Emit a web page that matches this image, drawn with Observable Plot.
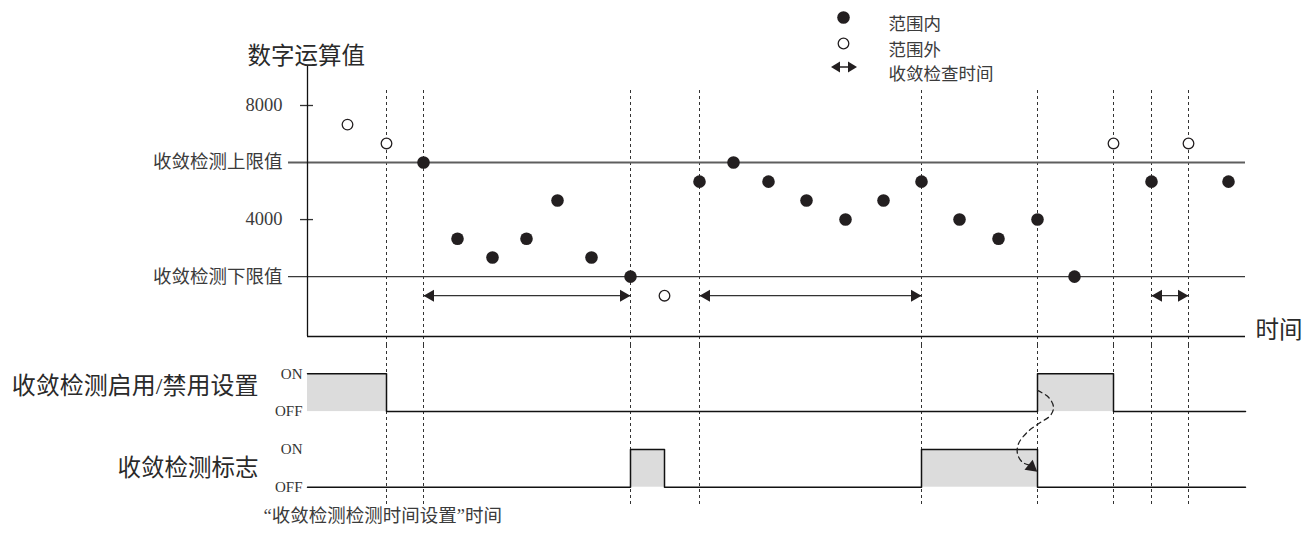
<!DOCTYPE html>
<html>
<head>
<meta charset="utf-8">
<script src="https://cdn.jsdelivr.net/npm/d3@7"></script>
<script src="https://cdn.jsdelivr.net/npm/@observablehq/plot@0.6"></script>
<style>
  html, body { margin: 0; padding: 0; background: #fff; overflow: hidden; }
  #chart svg { display: block; }
</style>
</head>
<body>
<div id="chart"></div>
<script>
// ---------- data ----------
// sample times (ms from the start of the axis) and digital operation values
const sampleTimes  = [40, 79, 116, 150, 185, 219, 250, 284, 323, 357, 392, 426, 461, 499, 538, 576, 614, 652, 691, 730, 767, 806, 844, 881, 921];
const sampleValues = [7330, 6670, 6000, 3330, 2670, 3330, 4670, 2670, 2000, 1330, 5330, 6000, 5330, 4670, 4000, 4670, 5330, 4000, 3330, 4000, 2000, 6670, 5330, 6670, 5330];
const upperLimit = 6000;
const lowerLimit = 2000;
const timeEnd = 938;
const axisMin = -100;
const axisTop = 9370;
const yTicks = [2000, 4000, 6000, 8000];
const yTickLabels = ["收敛检测下限值", "4000", "收敛检测上限值", "8000"];
const shortTicks = [4000, 8000];
// dashed event times
const eventTimes = [79, 116, 323, 392, 614, 730, 806, 844, 881];
// convergence check time arrows
const checkStarts = [116, 392, 844];
const checkEnds   = [323, 614, 881];
const checkValue = 1330;
// timing charts (state changes, step-after)
const enableTimes  = [0, 79, 730, 806, timeEnd];
const enableStates = [1, 0, 1, 0, 0];
const flagTimes    = [0, 323, 357, 614, 730, timeEnd];
const flagStates   = [0, 1, 0, 1, 0, 0];
const laneNames = ["收敛检测启用/禁用设置", "收敛检测标志"];
const laneBases = [2, 0];
// dashed feedback arrow (time, lane level)
const feedbackT     = [730, 741, 746, 743, 731, 720, 711, 710, 715, 721];
const feedbackLevel = [2.56, 2.38, 2.12, 1.90, 1.68, 1.46, 1.15, 0.88, 0.66, 0.59];
const feedbackHead = {t: 724, level: 0.53, angle: 129};
const legendLabels = ["范围内", "范围外", "收敛检查时间"];
const titleText = "数字运算值";
const xLabel = "时间";
const captionText = "“收敛检测检测时间设置”时间";

// ---------- derived tables ----------
const samples = sampleTimes.map((t, i) => ({t, v: sampleValues[i], inside: sampleValues[i] >= lowerLimit && sampleValues[i] <= upperLimit}));
const checks = checkStarts.map((s, i) => ({s, e: checkEnds[i], v: checkValue}));
const steps = (times, states, base) => times.map((t, i) => ({t, level: base + states[i]}));
const onIntervals = (times, states, base) => {
  const out = [];
  for (let i = 0; i < times.length - 1; i++) if (states[i] === 1) out.push({x1: times[i], x2: times[i + 1], y1: base, y2: base + 1});
  return out;
};
const enableSteps = steps(enableTimes, enableStates, laneBases[0]);
const flagSteps = steps(flagTimes, flagStates, laneBases[1]);
const onAreas = [...onIntervals(enableTimes, enableStates, laneBases[0]), ...onIntervals(flagTimes, flagStates, laneBases[1])];
const feedback = feedbackT.map((t, i) => ({t, level: feedbackLevel[i]}));

const FONT = "'Liberation Serif', 'Noto Sans CJK SC', serif";
const INK = "#231f20";
const dashStyle = {stroke: "#333", strokeWidth: 1, strokeDasharray: "3,3"};

// legend double arrow drawn in pixel space
function legendArrow(index, scales, values, dims) {
  const g = d3.create("svg:g").attr("fill", INK);
  const cx = dims.marginLeft + 537, cy = dims.marginTop - 38, half = 13;
  g.append("line").attr("x1", cx - half + 4).attr("x2", cx + half - 4).attr("y1", cy).attr("y2", cy)
    .attr("stroke", INK).attr("stroke-width", 1.5);
  g.append("path").attr("d", `M${cx - half},${cy}L${cx - half + 9},${cy - 5.5}L${cx - half + 9},${cy + 5.5}Z`);
  g.append("path").attr("d", `M${cx + half},${cy}L${cx + half - 9},${cy - 5.5}L${cx + half - 9},${cy + 5.5}Z`);
  return g.node();
}

// ---------- main chart ----------
const main = Plot.plot({
  width: 1313,
  height: 345,
  marginLeft: 307,
  marginRight: 68,
  marginTop: 105,
  marginBottom: 9,
  style: {fontFamily: FONT, background: "#fff", color: "#333"},
  x: {domain: [0, timeEnd], axis: null},
  y: {domain: [axisMin, 8000]},
  marks: [
    Plot.ruleX(eventTimes, {...dashStyle, insetTop: -15, insetBottom: -9}),
    Plot.ruleY([upperLimit], {stroke: "#5e5e5e", strokeWidth: 2, insetLeft: -19}),
    Plot.ruleY([lowerLimit], {stroke: "#3a3a3a", strokeWidth: 1.4, insetLeft: -19}),
    Plot.tickY(shortTicks, {stroke: "#333", strokeWidth: 1.3, insetLeft: -7, insetRight: 932}),
    Plot.ruleY([axisMin], {stroke: "#111", strokeWidth: 1.3}),
    Plot.ruleX([0], {y1: axisMin, y2: axisTop, stroke: "#111", strokeWidth: 1.3}),
    Plot.ruleY(checks, {y: "v", x1: "s", x2: "e", stroke: "#333", strokeWidth: 1.2}),
    Plot.dot(checks, {x: "s", y: "v", symbol: "triangle", rotate: -90, r: 4.5, fill: INK, dx: 7}),
    Plot.dot(checks, {x: "e", y: "v", symbol: "triangle", rotate: 90, r: 4.5, fill: INK, dx: -7}),
    Plot.dot(samples.filter(d => d.inside), {x: "t", y: "v", r: 6.3, fill: INK}),
    Plot.dot(samples.filter(d => !d.inside), {x: "t", y: "v", r: 5.3, fill: "#fff", stroke: INK, strokeWidth: 1.3}),
    Plot.axisY({ticks: yTicks, tickFormat: d => yTickLabels[yTicks.indexOf(d)], tickSize: 0, tickPadding: 25, fontSize: 18.5, label: null, fill: "#3b3b3b"}),
    Plot.text([xLabel], {frameAnchor: "bottom-right", dx: 10, dy: 1, textAnchor: "start", fontSize: 23.5, fill: "#2a2a2a"}),
    Plot.text([titleText], {frameAnchor: "top-left", dx: -60, dy: -58, textAnchor: "start", fontSize: 23.5, fill: "#2a2a2a"}),
    // legend
    Plot.dot([legendLabels[0]], {frameAnchor: "top-left", dx: 536, dy: -88, r: 6.3, fill: INK}),
    Plot.dot([legendLabels[1]], {frameAnchor: "top-left", dx: 536, dy: -62, r: 5.3, fill: "#fff", stroke: INK, strokeWidth: 1.3}),
    legendArrow,
    Plot.text([legendLabels[0]], {frameAnchor: "top-left", dx: 581, dy: -88, textAnchor: "start", fontSize: 17.5, fill: "#3b3b3b"}),
    Plot.text([legendLabels[1]], {frameAnchor: "top-left", dx: 581, dy: -62, textAnchor: "start", fontSize: 17.5, fill: "#3b3b3b"}),
    Plot.text([legendLabels[2]], {frameAnchor: "top-left", dx: 581, dy: -38, textAnchor: "start", fontSize: 17.5, fill: "#3b3b3b"})
  ]
});

// ---------- timing charts ----------
const timing = Plot.plot({
  width: 1313,
  height: 192,
  marginLeft: 307,
  marginRight: 68,
  marginTop: 28.3,
  marginBottom: 50.3,
  style: {fontFamily: FONT, background: "#fff", color: "#333"},
  x: {domain: [0, timeEnd], axis: null},
  y: {domain: [0, 3]},
  marks: [
    Plot.ruleX(eventTimes, {...dashStyle, insetTop: -28.3, insetBottom: -20}),
    Plot.rect(onAreas, {x1: "x1", x2: "x2", y1: "y1", y2: "y2", fill: "#dcdcdc"}),
    Plot.line(enableSteps, {x: "t", y: "level", curve: "step-after", stroke: "#111", strokeWidth: 1.5}),
    Plot.line(flagSteps, {x: "t", y: "level", curve: "step-after", stroke: "#111", strokeWidth: 1.5}),
    Plot.line(feedback, {x: "t", y: "level", curve: "catmull-rom", stroke: "#222", strokeWidth: 1.3, strokeDasharray: "5,4"}),
    Plot.dot([feedbackHead], {x: "t", y: "level", symbol: "triangle", rotate: feedbackHead.angle, r: 4.8, fill: INK}),
    Plot.axisY({ticks: [0, 1, 2, 3], tickFormat: d => (d % 2 ? "ON" : "OFF"), tickSize: 0, tickPadding: 5, fontSize: 15, label: null, fill: "#333"}),
    Plot.text([laneNames[0]], {y: laneBases[0] + 0.5, frameAnchor: "left", dx: -49, dy: -6, textAnchor: "end", fontSize: 24, fill: "#2a2a2a"}),
    Plot.text([laneNames[1]], {y: laneBases[1] + 0.5, frameAnchor: "left", dx: -49, dy: 0, textAnchor: "end", fontSize: 23.5, fill: "#2a2a2a"}),
    Plot.text([captionText], {frameAnchor: "bottom-left", dx: -44, dy: 35, textAnchor: "start", fontSize: 18.5, fill: "#3b3b3b"})
  ]
});

const root = document.getElementById("chart");
root.appendChild(main);
root.appendChild(timing);
</script>
</body>
</html>
